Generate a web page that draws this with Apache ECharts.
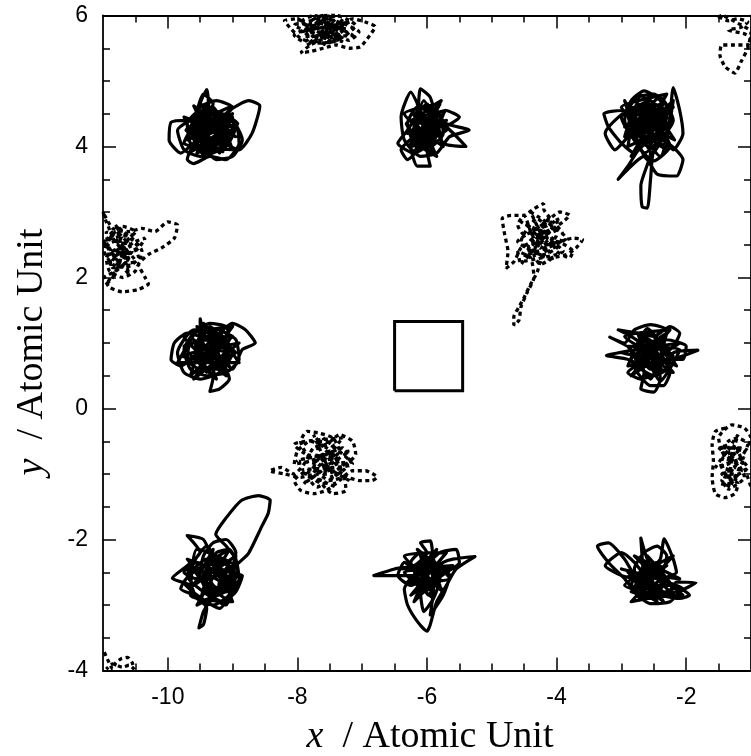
<!DOCTYPE html>
<html><head><meta charset="utf-8">
<script src="https://cdn.jsdelivr.net/npm/echarts@6/dist/echarts.min.js"></script>
<style>html,body{margin:0;padding:0;background:#fff}#c{width:751px;height:756px}</style>
</head><body><div id="c"></div>
<script>
// ---- axis ticks / labels ----
const xMajor = [-10,-8,-6,-4,-2];
const xMinor = [-10.5,-9.5,-9,-8.5,-7.5,-7,-6.5,-5.5,-5,-4.5,-3.5,-3,-2.5,-1.5];
const yMajor = [-4,-2,0,2,4,6];
const yMinor = [-3.5,-3,-2.5,-1.5,-1,-0.5,0.5,1,1.5,2.5,3,3.5,4.5,5,5.5];

// ---- solid trajectories (species 1) ----
const solid1 = [[-9.40,4.25],[-9.15,4.50],[-8.95,4.30],[-9.10,4.00],[-9.40,3.90],[-9.65,4.05],[-9.70,4.35],[-9.50,4.55],[-9.25,4.45],[-9.05,4.20],[-9.20,3.95],[-9.50,3.85],[-9.75,3.95],[-9.85,4.25],[-9.60,4.45],[-9.40,4.87],[-9.35,4.45],[-9.20,4.10],[-8.90,3.95],[-8.70,4.20],[-8.58,4.62],[-8.75,4.70],[-9.05,4.55],[-9.30,4.30],[-9.55,4.10],[-9.80,3.90],[-9.98,4.10],[-9.95,4.37],[-9.70,4.40],[-9.45,4.30],[-9.20,4.40],[-9.00,4.60],[-9.25,4.70],[-9.50,4.60],[-9.60,4.30],[-9.45,4.00],[-9.25,3.80],[-9.00,3.85],[-8.85,4.10],[-9.00,4.40],[-9.30,4.50],[-9.55,4.35],[-9.55,4.05],[-9.35,3.95],[-9.15,4.15],[-9.30,4.35],[-9.50,4.20],[-9.70,3.80],[-9.60,3.74],[-9.35,3.85],[-9.10,3.80],[-8.90,4.05],[-8.95,4.35],[-9.15,4.25],[-9.40,4.10],[-9.65,4.20],[-9.50,4.40],[-9.30,4.65],[-9.45,4.80],[-9.55,4.50],[-9.35,4.20],
  [-9.15,4.35],[-9.30,4.05],[-9.50,4.25],[-9.25,4.45],[-9.10,4.20],[-9.40,4.00],[-9.60,4.20],[-9.40,4.40],[-9.20,4.25],[-9.35,4.10],[-9.55,4.35],[-9.30,4.55],[-9.10,4.40],[-9.25,4.15],[-9.45,4.05],[-9.65,4.30],[-9.45,4.50],[-9.20,4.30],[-9.05,4.10],[-9.30,3.95],[-9.55,4.15],[-9.40,4.35],[-9.15,4.05],[-9.35,4.30],[-9.50,4.45],[-9.25,4.25],[-9.45,4.15],[-9.60,4.00],[-9.35,4.25],
  [-9.70,4.10],[-9.00,4.50],[-9.45,3.88],[-9.75,4.45],[-8.95,4.15],[-9.60,4.62],[-9.20,3.90],[-9.05,4.60],[-9.72,4.25],[-9.10,4.05],[-9.50,4.65],[-8.92,4.35],[-9.65,3.92],[-9.30,4.60],[-9.00,3.95],[-9.75,4.05],[-9.40,4.55],[-8.98,4.25],[-9.55,3.90],[-9.25,4.50],[-9.68,4.40],[-9.05,4.30],[-9.45,4.62],[-9.15,3.92],[-9.62,4.15],[-9.35,4.05],[-9.00,4.45],[-9.55,4.55],[-9.20,4.20],[-9.40,4.25]];
const solid2 = [[-6.00,4.30],[-5.80,4.50],[-5.75,4.20],[-5.95,4.00],[-6.20,4.05],[-6.30,4.35],[-6.15,4.60],[-5.90,4.55],[-5.70,4.35],[-5.35,4.25],[-5.65,4.15],[-5.85,3.90],[-6.10,3.85],[-6.35,4.10],[-6.40,4.45],[-6.25,4.83],[-6.10,4.55],[-5.95,4.20],[-6.00,3.95],[-5.95,3.70],[-6.15,3.70],[-6.25,4.00],[-6.05,4.25],[-5.80,4.35],[-5.40,4.00],[-5.75,4.05],[-5.85,4.40],[-5.95,4.75],[-6.10,4.88],[-6.15,4.50],[-6.30,4.25],[-6.45,4.05],[-6.20,3.90],[-5.90,4.10],[-5.70,4.55],[-5.50,4.45],[-5.75,4.30],[-6.05,4.40],[-6.25,4.20],[-6.10,4.00],[-5.85,3.85],[-6.00,4.15],[-6.20,4.40],[-6.00,4.65],[-5.85,4.25],[-6.05,4.05],[-6.30,3.80],[-6.40,3.95],[-6.15,4.20],[-5.95,4.45],[-5.78,4.70],[-6.05,4.50],
  [-5.95,4.35],[-6.10,4.15],[-5.90,4.05],[-5.85,4.30],[-6.05,4.45],[-6.20,4.30],[-6.00,4.10],[-5.80,4.20],[-5.95,4.50],[-6.15,4.35],[-6.05,4.10],[-5.90,4.25],[-6.10,4.40],[-6.20,4.15],[-5.95,4.05],[-5.85,4.45],[-6.00,4.35],[-6.15,4.05],[-5.90,4.15],[-6.05,4.30],[-5.88,4.38],[-6.12,4.22],
  [-6.30,4.20],[-5.70,4.40],[-6.20,3.90],[-5.80,4.65],[-6.35,4.50],[-5.75,4.00],[-6.05,4.70],[-6.25,4.10],[-5.70,4.25],[-6.15,4.65],[-5.90,3.88],[-6.32,4.35],[-5.72,4.55],[-6.10,3.95],[-5.85,4.60],[-6.28,4.00],[-5.78,4.12],[-6.00,4.62],[-6.20,4.48],[-5.90,4.20],[-6.00,4.30]];
const solid3 = [[-2.55,4.25],[-2.35,4.45],[-2.40,4.70],[-2.65,4.85],[-2.85,4.70],[-2.95,4.40],[-2.80,4.10],[-2.55,4.00],[-2.30,4.15],[-2.25,4.45],[-2.20,4.90],[-2.10,4.55],[-2.05,4.20],[-2.20,3.95],[-2.50,4.30],[-2.75,4.50],[-3.00,4.55],[-3.27,4.50],[-3.20,4.30],[-3.00,4.05],[-2.80,3.90],[-2.60,4.10],[-2.45,4.40],[-2.60,4.65],[-2.80,4.40],[-2.70,4.15],[-2.55,3.90],[-2.70,3.40],[-2.68,3.08],[-2.60,3.06],[-2.55,3.50],[-2.50,3.95],[-2.30,4.05],[-2.05,3.80],[-2.15,3.55],[-2.45,3.58],[-2.65,3.85],[-3.05,3.50],[-2.90,3.70],[-2.70,4.00],[-2.45,4.20],[-2.30,4.60],[-2.50,4.80],[-2.75,4.75],[-2.90,4.55],[-2.70,4.30],[-2.45,4.10],[-2.35,4.30],[-2.55,4.55],[-2.80,4.60],[-3.25,4.20],[-3.10,3.95],[-2.85,4.20],[-2.60,4.40],[-2.40,4.25],[-2.55,4.05],[-2.75,4.20],[-2.65,4.45],[-2.45,4.55],[-2.30,4.35],[-2.50,4.15],
  [-2.60,4.30],[-2.40,4.50],[-2.65,4.60],[-2.85,4.35],[-2.60,4.15],[-2.35,4.25],[-2.50,4.50],[-2.75,4.55],[-2.80,4.25],[-2.55,4.05],[-2.35,4.40],[-2.60,4.60],[-2.80,4.45],[-2.65,4.20],[-2.45,4.30],[-2.70,4.40],[-2.50,4.65],[-2.30,4.45],[-2.45,4.15],[-2.75,4.05],[-2.85,4.30],[-2.55,4.45],[-2.40,4.20],[-2.65,4.35],
  [-2.95,4.30],[-2.20,4.60],[-2.85,3.85],[-2.30,4.80],[-3.00,4.60],[-2.18,4.10],[-2.70,4.78],[-2.90,4.00],[-2.25,4.30],[-2.60,3.80],[-2.95,4.70],[-2.40,3.85],[-2.20,4.70],[-2.80,4.15],[-2.35,4.65],[-3.00,4.45],[-2.50,3.78],[-2.25,4.00],[-2.75,4.65],[-2.95,4.15],[-2.40,4.75],[-2.20,4.40],[-2.65,3.90],[-2.90,4.50],[-2.55,4.70],[-2.30,3.95],[-2.80,4.30],[-2.45,4.45],[-2.60,4.25],[-2.70,4.55],[-2.35,4.15],[-2.55,4.35]];
const solid4 = [[-9.30,0.85],[-9.05,1.05],[-9.10,1.25],[-9.35,1.30],[-9.60,1.15],[-9.75,0.90],[-9.65,0.60],[-9.40,0.50],[-9.10,0.55],[-8.90,0.75],[-8.95,1.05],[-9.20,1.20],[-9.50,1.25],[-9.50,1.37],[-9.45,1.10],[-9.55,0.85],[-9.80,0.65],[-9.95,0.75],[-9.90,1.00],[-9.70,1.15],[-9.40,1.05],[-9.20,0.80],[-9.00,0.60],[-8.85,0.90],[-8.65,1.00],[-8.80,1.20],[-9.00,1.30],[-9.25,1.10],[-9.45,0.70],[-9.30,0.48],[-9.35,0.26],[-9.20,0.30],[-9.05,0.45],[-9.15,0.70],[-9.40,0.95],[-9.65,1.00],[-9.70,0.75],[-9.50,0.60],[-9.25,0.65],[-9.10,0.90],[-9.30,1.15],[-9.60,1.20],[-9.85,0.85],[-9.75,0.55],[-9.50,0.45],[-9.20,0.55],[-9.00,0.85],[-9.15,1.10],[-9.40,1.20],[-9.55,1.00],[-9.40,0.80],[-9.20,0.95],
  [-9.25,0.95],[-9.45,0.80],[-9.25,0.65],[-9.05,0.80],[-9.20,1.05],[-9.45,1.05],[-9.55,0.75],[-9.35,0.60],[-9.10,0.70],[-9.15,0.95],[-9.40,1.10],[-9.50,0.90],[-9.30,0.70],[-9.05,0.95],[-9.30,1.00],[-9.50,0.65],[-9.20,0.60],[-9.10,0.85],[-9.35,0.90],[-9.45,0.75],
  [-9.80,0.80],[-8.90,1.00],[-9.60,0.45],[-9.00,1.25],[-9.75,1.10],[-9.10,0.50],[-9.45,1.30],[-9.85,0.70],[-8.90,0.70],[-9.35,1.25],[-9.65,0.50],[-9.00,1.10],[-9.75,0.95],[-9.25,0.45],[-9.55,1.25],[-8.95,0.85],[-9.70,0.70],[-9.15,1.20],[-9.40,0.55],[-9.60,1.05],[-9.05,0.65],[-9.30,0.85]];
const solid5 = [[-2.55,0.83],[-2.35,1.00],[-2.30,1.20],[-2.55,1.28],[-2.80,1.20],[-2.95,1.00],[-3.18,1.09],[-2.85,0.90],[-3.23,0.81],[-2.90,0.75],[-2.70,0.60],[-2.50,0.50],[-2.30,0.60],[-2.20,0.85],[-1.82,0.89],[-2.25,0.75],[-2.40,0.95],[-2.60,1.05],[-2.75,0.85],[-2.65,0.55],[-2.70,0.30],[-2.50,0.25],[-2.40,0.45],[-2.45,0.70],[-2.65,0.95],[-2.85,1.10],[-3.05,1.20],[-2.75,1.15],[-2.50,1.10],[-2.25,1.25],[-2.10,1.15],[-2.20,0.95],[-2.45,0.80],[-2.70,0.70],[-2.90,0.55],[-2.70,0.45],[-2.45,0.55],[-2.30,0.75],[-2.05,0.75],[-2.00,0.95],[-2.30,1.05],[-2.60,0.90],[-2.80,0.65],[-2.55,0.35],[-2.35,0.35],[-2.25,0.55],[-2.50,0.75],[-2.75,1.00],[-2.55,1.15],[-2.40,0.90],
  [-2.50,0.95],[-2.70,0.80],[-2.55,0.60],[-2.35,0.75],[-2.45,1.00],[-2.65,1.05],[-2.75,0.75],[-2.55,0.65],[-2.35,0.85],[-2.55,1.00],[-2.70,0.90],[-2.60,0.70],[-2.40,0.65],[-2.35,0.95],[-2.60,0.85],[-2.75,0.60],[-2.50,0.70],[-2.45,0.90],[-2.65,0.80],
  [-3.00,0.85],[-2.10,1.00],[-2.85,0.50],[-2.25,1.20],[-2.95,1.10],[-2.15,0.65],[-2.60,1.22],[-2.90,0.65],[-2.20,0.80],[-2.75,1.15],[-2.40,0.42],[-2.10,0.90],[-2.90,0.95],[-2.55,0.45],[-2.30,1.15],[-2.85,0.75],[-2.20,0.55],[-2.65,1.10],[-2.45,0.60],[-2.55,0.83]];
const solid6 = [[-9.20,-2.60],[-9.00,-2.40],[-8.95,-2.20],[-9.10,-2.00],[-9.30,-2.05],[-9.45,-2.25],[-9.50,-2.55],[-9.35,-2.85],[-9.15,-2.95],[-8.95,-2.80],[-8.85,-2.55],[-9.05,-2.50],[-9.25,-2.40],[-9.45,-2.00],[-9.70,-1.94],[-9.50,-2.20],[-9.70,-2.40],[-9.93,-2.59],[-9.65,-2.70],[-9.55,-2.90],[-9.30,-3.00],[-9.05,-2.85],[-8.90,-2.60],[-8.95,-2.30],[-9.10,-2.10],[-9.26,-1.92],[-9.10,-1.67],[-8.86,-1.40],[-8.60,-1.33],[-8.42,-1.40],[-8.45,-1.60],[-8.55,-1.80],[-8.76,-2.22],[-8.95,-2.40],[-9.15,-2.75],[-9.35,-2.95],[-9.45,-3.10],[-9.52,-3.35],[-9.45,-3.30],[-9.40,-3.05],[-9.60,-2.85],[-9.80,-2.75],[-9.60,-2.45],[-9.40,-2.30],[-9.15,-2.30],[-9.00,-2.55],[-9.10,-2.80],[-9.30,-2.70],[-9.40,-2.45],[-9.25,-2.20],[-9.05,-2.15],[-8.95,-2.35],[-9.15,-2.50],[-9.35,-2.60],[-9.55,-2.60],[-9.75,-2.50],[-9.55,-2.35],[-9.30,-2.50],[-9.10,-2.65],
  [-9.25,-2.45],[-9.05,-2.65],[-9.25,-2.85],[-9.40,-2.65],[-9.20,-2.35],[-9.00,-2.45],[-9.15,-2.70],[-9.35,-2.80],[-9.45,-2.55],[-9.25,-2.30],[-9.05,-2.35],[-9.20,-2.55],[-9.40,-2.40],[-9.30,-2.75],[-9.10,-2.90],[-8.98,-2.70],[-9.20,-2.50],[-9.35,-2.35],[-9.15,-2.60],[-9.30,-2.90],[-9.40,-2.70],
  [-9.70,-2.30],[-8.95,-2.65],[-9.55,-3.00],[-9.05,-2.15],[-9.75,-2.65],[-9.20,-3.05],[-8.92,-2.45],[-9.55,-2.15],[-9.65,-2.85],[-9.00,-2.95],[-9.40,-2.10],[-9.70,-2.55],[-9.10,-3.00],[-8.95,-2.25],[-9.60,-2.70],[-9.30,-2.15],[-9.50,-2.95],[-9.05,-2.75],[-9.65,-2.40],[-9.25,-2.85],[-9.20,-2.60]];
const solid7 = [[-5.95,-2.50],[-5.75,-2.35],[-5.60,-2.30],[-5.26,-2.26],[-5.55,-2.45],[-5.70,-2.70],[-5.85,-2.95],[-5.95,-3.30],[-6.00,-3.40],[-6.15,-3.25],[-6.30,-3.00],[-6.35,-2.75],[-6.20,-2.55],[-6.82,-2.55],[-6.50,-2.45],[-6.20,-2.40],[-6.00,-2.20],[-6.10,-2.05],[-5.95,-2.02],[-5.90,-2.30],[-5.80,-2.60],[-5.90,-2.90],[-6.05,-3.10],[-6.10,-2.80],[-6.05,-2.45],[-5.80,-2.20],[-5.55,-2.15],[-5.50,-2.35],[-5.70,-2.50],[-5.95,-2.65],[-6.15,-2.50],[-6.35,-2.35],[-6.45,-2.55],[-6.25,-2.70],[-6.05,-2.60],[-5.85,-2.40],[-5.65,-2.55],[-5.75,-2.85],[-5.95,-3.15],[-5.90,-2.75],[-5.95,-2.35],[-6.10,-2.20],[-6.25,-2.35],[-6.10,-2.65],[-5.98,-2.85],[-5.85,-2.55],[-6.00,-2.40],[-6.20,-2.60],[-6.05,-2.75],
  [-6.05,-2.35],[-5.85,-2.50],[-6.00,-2.70],[-6.15,-2.55],[-5.95,-2.30],[-5.80,-2.45],[-5.95,-2.75],[-6.15,-2.65],[-6.10,-2.35],[-5.90,-2.40],[-5.85,-2.65],[-6.05,-2.80],[-6.20,-2.45],[-6.00,-2.30],[-5.80,-2.55],[-5.98,-2.60],[-6.12,-2.40],
  [-6.40,-2.45],[-5.60,-2.40],[-6.25,-2.85],[-5.70,-2.20],[-6.35,-2.25],[-5.75,-2.80],[-6.15,-2.15],[-5.65,-2.60],[-6.30,-2.65],[-5.85,-2.15],[-6.20,-2.95],[-5.70,-2.45],[-6.35,-2.50],[-5.90,-2.90],[-6.10,-2.25],[-5.80,-2.70],[-6.25,-2.40],[-6.00,-2.60]];
const solid8 = [[-2.55,-2.58],[-2.35,-2.45],[-2.30,-2.25],[-2.45,-2.10],[-2.65,-2.20],[-2.80,-2.45],[-2.75,-2.75],[-2.55,-2.90],[-2.30,-2.85],[-2.15,-2.65],[-1.85,-2.66],[-2.10,-2.80],[-2.25,-2.95],[-2.55,-2.98],[-2.75,-2.85],[-2.95,-2.60],[-3.20,-2.35],[-3.37,-2.10],[-3.20,-2.05],[-2.95,-2.30],[-2.80,-2.55],[-2.65,-2.70],[-2.70,-1.98],[-2.60,-2.30],[-2.40,-2.60],[-2.15,-2.50],[-2.20,-2.30],[-2.34,-1.99],[-2.40,-2.30],[-2.55,-2.45],[-2.75,-2.60],[-3.00,-2.55],[-3.25,-2.40],[-3.00,-2.20],[-2.80,-2.35],[-2.60,-2.60],[-2.40,-2.80],[-2.10,-2.90],[-1.95,-2.85],[-2.20,-2.70],[-2.45,-2.70],[-2.70,-2.90],[-2.85,-2.70],[-2.65,-2.45],[-2.45,-2.35],[-2.35,-2.55],[-2.60,-2.75],[-2.80,-2.80],
  [-2.45,-2.50],[-2.65,-2.55],[-2.55,-2.80],[-2.35,-2.70],[-2.40,-2.45],[-2.65,-2.40],[-2.75,-2.70],[-2.50,-2.85],[-2.30,-2.60],[-2.50,-2.45],[-2.70,-2.60],[-2.55,-2.70],[-2.35,-2.80],[-2.60,-2.90],[-2.80,-2.75],[-2.60,-2.50],[-2.40,-2.60],
  [-3.00,-2.45],[-2.05,-2.75],[-2.85,-2.95],[-2.20,-2.25],[-2.95,-2.70],[-2.15,-2.90],[-2.80,-2.25],[-2.10,-2.60],[-2.90,-2.50],[-2.35,-2.95],[-2.70,-2.30],[-2.05,-2.85],[-2.85,-2.80],[-2.30,-2.40],[-2.95,-2.60],[-2.45,-2.95],[-2.60,-2.25],[-2.20,-2.75],[-2.75,-2.85],[-2.55,-2.58]];

// ---- dashed trajectories (species 2) ----
const dashA = [[-7.60,5.80],[-7.40,5.90],[-7.30,5.75],[-7.50,5.65],[-7.75,5.70],[-7.85,5.88],[-7.65,5.98],[-7.45,6.02],[-7.25,5.95],[-7.10,5.85],[-7.25,5.70],[-7.45,5.60],[-7.70,5.58],[-7.95,5.65],[-8.10,5.80],[-8.20,5.92],[-8.00,5.95],[-7.80,5.80],[-7.55,5.72],[-7.35,5.82],[-7.15,5.95],[-6.95,5.90],[-6.80,5.83],[-6.88,5.70],[-7.03,5.52],[-7.20,5.50],[-7.40,5.55],[-7.60,5.50],[-7.80,5.45],[-7.95,5.43],[-7.80,5.55],[-7.60,5.65],[-7.45,5.78],[-7.65,5.88],[-7.90,5.78],[-8.05,5.70],[-7.90,5.60],[-7.65,5.75],[-7.40,5.70],[-7.20,5.62],[-7.05,5.75],[-7.30,5.88],[-7.55,5.95],[-7.75,6.00],[-7.95,5.90],[-7.70,5.80],[-7.50,5.85],[-7.35,5.65],[-7.55,5.58],[-7.75,5.62],
  [-7.45,5.85],[-7.60,5.70],[-7.75,5.85],[-7.55,5.95],[-7.35,5.88],[-7.50,5.75],[-7.70,5.65],[-7.80,5.90],[-7.60,6.00],[-7.40,5.78],[-7.30,5.95],[-7.50,5.68],[-7.72,5.78],[-7.62,5.92],[-7.45,5.72],[-7.58,5.82],
  [-7.95,5.75],[-7.20,5.90],[-7.85,5.55],[-7.35,6.00],[-8.05,5.85],[-7.30,5.60],[-7.70,5.95],[-7.15,5.70],[-7.90,5.68],[-7.50,6.00],[-7.60,5.55],[-7.25,5.80],[-7.60,5.80]];
const dashB = [[-1.50,5.98],[-1.35,5.92],[-1.20,5.95],[-1.05,5.90],[-1.15,5.82],[-1.35,5.78],[-1.10,5.72],[-1.00,5.65],[-1.05,5.55],[-1.25,5.55],[-1.45,5.55],[-1.48,5.40],[-1.40,5.22],[-1.25,5.12],[-1.15,5.30],[-1.05,5.50],[-1.00,5.75],[-1.20,5.88],[-1.45,6.00],[-1.56,5.95]];
const dashC = [[-10.80,2.40],[-10.65,2.55],[-10.50,2.70],[-10.70,2.78],[-10.90,2.65],[-10.98,2.40],[-10.85,2.20],[-10.65,2.15],[-10.45,2.30],[-10.55,2.50],[-10.80,2.55],[-10.95,2.85],[-11.00,3.00],[-10.85,2.75],[-10.60,2.70],[-10.40,2.75],[-10.20,2.70],[-10.00,2.85],[-9.85,2.80],[-9.90,2.60],[-10.10,2.45],[-10.30,2.35],[-10.45,2.20],[-10.35,2.00],[-10.30,1.90],[-10.45,1.82],[-10.70,1.78],[-10.90,1.85],[-10.98,2.00],[-10.80,2.10],[-10.60,2.30],[-10.75,2.45],[-10.95,2.30],[-10.90,2.10],[-10.70,2.00],[-10.50,2.10],[-10.40,2.40],[-10.55,2.60],[-10.75,2.70],[-10.95,2.55],[-10.85,2.35],[-10.65,2.45],[-10.50,2.55],[-10.35,2.60],[-10.45,2.45],[-10.70,2.30],[-10.85,2.00],[-10.95,1.90],[-10.75,2.20],
  [-10.70,2.50],[-10.85,2.60],[-10.65,2.35],[-10.90,2.45],[-10.75,2.25],[-10.55,2.40],[-10.80,2.70],[-10.95,2.50],[-10.70,2.60],[-10.60,2.20],[-10.85,2.15],
  [-10.95,2.70],[-10.50,2.25],[-10.90,2.20],[-10.55,2.65],[-10.98,2.55],[-10.60,2.05],[-10.80,2.80],[-10.45,2.45],[-10.85,2.30],[-10.70,2.40]];
const dashD = [[-4.30,2.60],[-4.15,2.75],[-4.30,2.90],[-4.45,2.75],[-4.55,2.55],[-4.40,2.40],[-4.20,2.35],[-4.00,2.45],[-3.90,2.65],[-4.05,2.85],[-4.20,3.05],[-4.20,3.13],[-4.35,3.05],[-4.50,2.95],[-4.70,2.95],[-4.84,2.90],[-4.80,2.65],[-4.75,2.40],[-4.78,2.14],[-4.65,2.25],[-4.55,2.45],[-4.35,2.55],[-4.15,2.50],[-3.95,2.55],[-3.75,2.60],[-3.60,2.58],[-3.70,2.45],[-3.85,2.35],[-4.05,2.30],[-4.25,2.20],[-4.35,2.35],[-4.25,2.65],[-4.05,2.75],[-3.90,2.85],[-3.80,2.95],[-3.95,3.00],[-4.10,2.90],[-4.30,2.75],[-4.50,2.65],[-4.60,2.80],[-4.50,2.95],[-4.40,2.70],[-4.25,2.45],[-4.10,2.60],[-4.00,2.40],[-3.80,2.30],[-3.75,2.40],[-4.00,2.55],[-4.20,2.40],[-4.30,2.08],[-4.40,1.90],[-4.50,1.70],[-4.58,1.55],[-4.66,1.40],[-4.66,1.27],[-4.58,1.35],[-4.55,1.55],[-4.45,1.78],[-4.35,2.00],[-4.40,2.30],[-4.60,2.40],[-4.55,2.20],[-4.40,2.50],
  [-4.20,2.55],[-4.35,2.70],[-4.15,2.85],[-4.00,2.65],[-4.20,2.45],[-4.40,2.60],[-4.25,2.80],[-4.05,2.55],[-4.25,2.35],[-4.45,2.50],[-4.30,2.65],[-4.10,2.70],[-4.30,2.50],[-4.15,2.62],
  [-4.55,2.85],[-3.90,2.40],[-4.50,2.25],[-3.95,2.90],[-4.60,2.55],[-4.05,2.25],[-4.40,3.00],[-3.85,2.60],[-4.45,2.35],[-4.10,2.95],[-4.30,2.60]];
const dashE = [[-7.50,-0.80],[-7.35,-0.65],[-7.45,-0.45],[-7.65,-0.38],[-7.85,-0.35],[-7.95,-0.50],[-7.85,-0.70],[-7.65,-0.75],[-7.45,-0.95],[-7.25,-0.85],[-7.10,-0.70],[-7.15,-0.50],[-7.35,-0.40],[-7.55,-0.55],[-7.75,-0.60],[-7.90,-0.85],[-8.05,-1.00],[-8.25,-0.90],[-8.43,-0.95],[-8.20,-1.00],[-7.95,-1.05],[-7.70,-1.00],[-7.50,-1.10],[-7.25,-1.05],[-7.05,-1.10],[-6.85,-1.10],[-6.77,-1.05],[-6.95,-0.95],[-7.15,-0.95],[-7.35,-1.10],[-7.55,-1.25],[-7.75,-1.30],[-7.95,-1.25],[-8.05,-1.10],[-7.85,-0.95],[-7.60,-0.90],[-7.40,-0.75],[-7.55,-0.60],[-7.80,-0.50],[-8.00,-0.65],[-8.05,-0.85],[-7.80,-0.80],[-7.55,-0.70],[-7.30,-0.60],[-7.20,-0.80],[-7.40,-0.85],[-7.65,-1.10],[-7.45,-1.30],[-7.25,-1.25],[-7.30,-1.00],[-7.60,-0.95],[-7.80,-1.10],[-7.70,-1.20],[-7.45,-1.05],[-7.25,-0.90],
  [-7.60,-0.70],[-7.75,-0.90],[-7.55,-1.00],[-7.35,-0.90],[-7.50,-0.65],[-7.70,-0.75],[-7.65,-0.50],[-7.45,-0.55],[-7.60,-0.85],[-7.40,-1.00],[-7.60,-1.15],[-7.85,-1.00],[-7.70,-0.85],
  [-8.00,-0.80],[-7.20,-0.65],[-7.90,-1.15],[-7.30,-0.45],[-8.05,-0.55],[-7.20,-1.10],[-7.75,-0.40],[-7.40,-1.20],[-7.95,-0.95],[-7.15,-0.85],[-7.60,-0.45],[-7.50,-0.80]];
const dashF = [[-1.40,-0.30],[-1.55,-0.35],[-1.60,-0.55],[-1.58,-0.80],[-1.60,-1.05],[-1.55,-1.30],[-1.40,-1.36],[-1.25,-1.30],[-1.20,-1.15],[-1.35,-1.05],[-1.45,-0.90],[-1.30,-0.80],[-1.45,-0.65],[-1.35,-0.50],[-1.20,-0.45],[-1.05,-0.55],[-1.15,-0.75],[-1.30,-0.95],[-1.45,-1.10],[-1.30,-1.20],[-1.10,-1.05],[-1.20,-0.85],[-1.40,-0.75],[-1.50,-0.45],[-1.30,-0.25],[-1.10,-0.30],[-1.00,-0.45],[-1.10,-0.65],[-1.30,-0.60],[-1.45,-0.80],[-1.40,-1.00],[-1.20,-1.00],[-1.05,-0.90],
  [-1.25,-0.70],[-1.40,-0.55],[-1.25,-0.90],[-1.45,-1.00],[-1.20,-1.10],[-1.35,-0.85],[-1.15,-0.60],
  [-1.50,-0.60],[-1.15,-0.95],[-1.45,-1.20],[-1.20,-0.40],[-1.55,-0.90],[-1.10,-0.75],[-1.35,-1.25],[-1.25,-0.55],[-1.00,-1.20]];
const dashG = [[-10.98,-3.72],[-10.92,-3.85],[-10.85,-3.98],[-10.80,-3.88],[-10.72,-3.82],[-10.62,-3.80],[-10.55,-3.88],[-10.52,-3.98],[-10.60,-3.92],[-10.70,-3.95],[-10.85,-3.90],[-10.95,-3.98]];

// ---- square marker ----
const squareBox = [[-6.50,0.27],[-5.45,0.27],[-5.45,1.33],[-6.50,1.33],[-6.50,0.27]];

const solidSets = [solid1,solid2,solid3,solid4,solid5,solid6,solid7,solid8];
const dashSets = [dashA,dashB,dashC,dashD,dashE,dashF,dashG];

const BLACK = '#000';
const labelFont = 'Liberation Sans, Arial, sans-serif';
const titleFont = 'Liberation Serif, Times New Roman, serif';

function xAxisDef(pos, ticks, len, withLabels, showLine) {
  return {
    type: 'value', min: -11, max: -1, position: pos,
    axisLine: { show: showLine, onZero: false, lineStyle: { color: BLACK, width: 1.8 } },
    axisTick: { show: true, inside: true, length: len, customValues: ticks, lineStyle: { color: BLACK, width: 1.5 } },
    axisLabel: withLabels ? { show: true, customValues: ticks, color: BLACK, fontSize: 23, fontFamily: labelFont, margin: 16 } : { show: false },
    splitLine: { show: false }
  };
}
function yAxisDef(pos, ticks, len, withLabels, showLine) {
  return {
    type: 'value', min: -4, max: 6, position: pos,
    axisLine: { show: showLine, onZero: false, lineStyle: { color: BLACK, width: 1.8 } },
    axisTick: { show: true, inside: true, length: len, customValues: ticks, lineStyle: { color: BLACK, width: 1.5 } },
    axisLabel: withLabels ? { show: true, customValues: ticks, color: BLACK, fontSize: 23, fontFamily: labelFont, margin: 15 } : { show: false },
    splitLine: { show: false }
  };
}

const series = [];
solidSets.forEach(d => series.push({
  type: 'line', data: d, showSymbol: false, smooth: 0.2, clip: true, silent: true,
  lineStyle: { color: BLACK, width: 3.2, type: 'solid', join: 'round' }
}));
dashSets.forEach(d => series.push({
  type: 'line', data: d, showSymbol: false, smooth: 0.2, clip: true, silent: true,
  lineStyle: { color: BLACK, width: 3.3, type: [4, 3.5], cap: 'butt' }
}));
series.push({
  type: 'line', data: squareBox, showSymbol: false, clip: true, silent: true,
  lineStyle: { color: BLACK, width: 3, join: 'miter' }
});

const chart = echarts.init(document.getElementById('c'), null, { renderer: 'canvas' });
chart.setOption({
  animation: false,
  backgroundColor: '#fff',
  grid: { left: 103, right: -7, top: 15.5, bottom: 85.5, containLabel: false },
  xAxis: [
    xAxisDef('bottom', xMajor, 13, true, true),
    xAxisDef('bottom', xMinor, 7, false, false),
    xAxisDef('top', xMajor, 13, false, true),
    xAxisDef('top', xMinor, 7, false, false)
  ],
  yAxis: [
    yAxisDef('left', yMajor, 13, true, true),
    yAxisDef('left', yMinor, 7, false, false),
    yAxisDef('right', yMajor, 13, false, true),
    yAxisDef('right', yMinor, 7, false, false)
  ],
  series: series,
  graphic: [
    { type: 'text', x: 430, y: 737, silent: true,
      style: { text: '{i|x}  / Atomic Unit', fill: BLACK, font: '38px ' + titleFont, align: 'center', verticalAlign: 'middle',
        rich: { i: { fontStyle: 'italic', fontSize: 38, fontFamily: titleFont, fill: BLACK } } } },
    { type: 'text', x: 32, y: 352, rotation: Math.PI / 2, silent: true,
      style: { text: '{i|y}  / Atomic Unit', fill: BLACK, font: '38px ' + titleFont, align: 'center', verticalAlign: 'middle',
        rich: { i: { fontStyle: 'italic', fontSize: 38, fontFamily: titleFont, fill: BLACK } } } }
  ]
});
</script>
</body></html>
